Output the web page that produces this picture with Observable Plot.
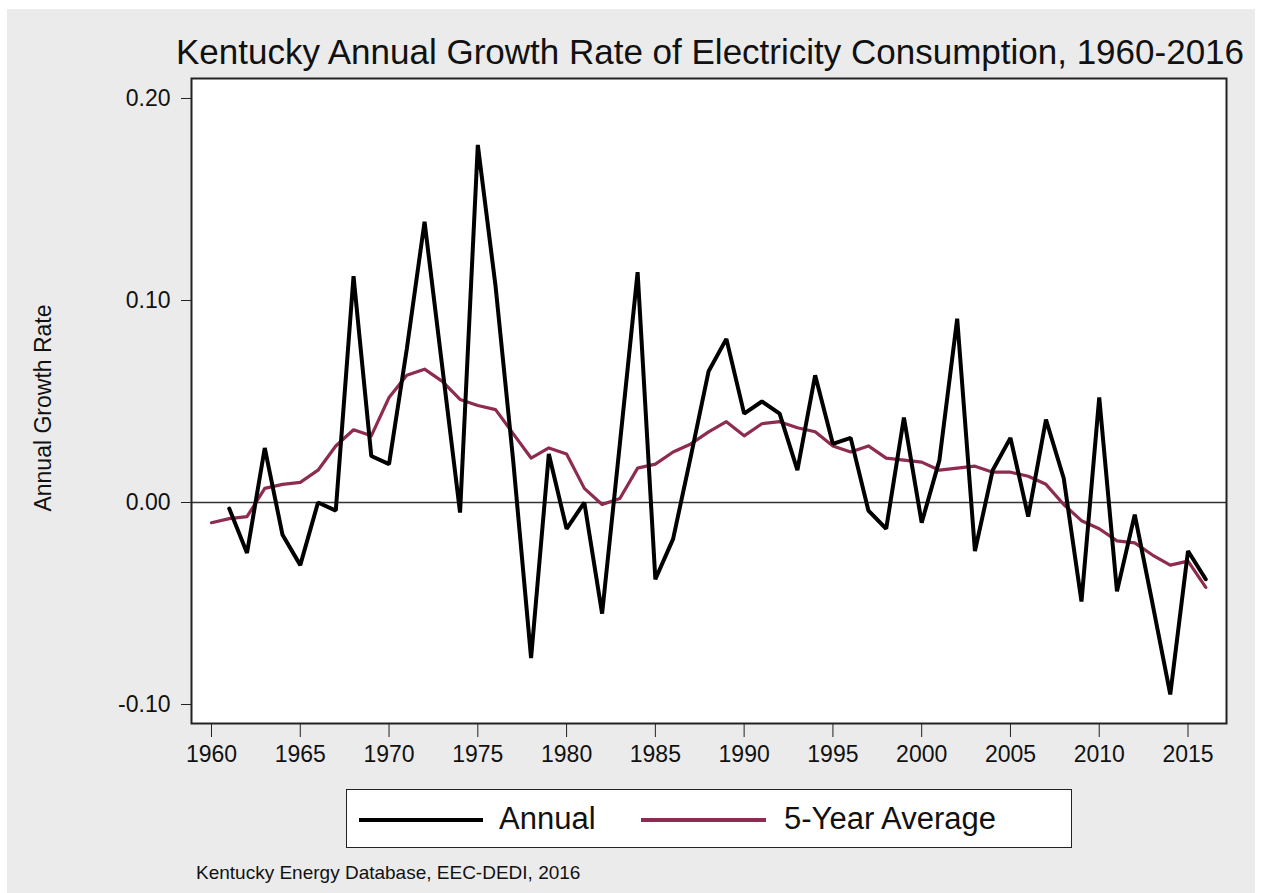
<!DOCTYPE html>
<html>
<head>
<meta charset="utf-8">
<script src="https://cdn.jsdelivr.net/npm/d3@7"></script>
<script src="https://cdn.jsdelivr.net/npm/@observablehq/plot@0.6"></script>
<style>
  html, body { margin: 0; padding: 0; background: #ffffff; }
  #page { position: relative; width: 1262px; height: 893px; overflow: hidden;
          font-family: "Liberation Sans", Arial, Helvetica, sans-serif; color: #111; }
  #bg { position: absolute; left: 7px; top: 9px; width: 1248px; height: 884px; background: #ebebeb; }
  #title { position: absolute; left: 160px; width: 1100px; top: 35px; font-size: 35px; line-height: 34px;
           text-align: center; white-space: nowrap; }
  #ylabel { position: absolute; left: 43px; top: 408px; font-size: 23px; line-height: 23px; white-space: nowrap;
            transform: translate(-50%, -50%) rotate(-90deg); }
  #chart { position: absolute; left: 0; top: 0; }
  #legend { position: absolute; left: 346px; top: 789px; width: 724px; height: 57px; background: #fff;
            border: 1.5px solid #222; }
  .sw { position: absolute; top: 28px; height: 3.5px; }
  .lt { position: absolute; top: 12px; font-size: 31px; line-height: 34px; white-space: nowrap; }
  #caption { position: absolute; left: 196px; top: 863px; font-size: 19px; line-height: 20px; white-space: nowrap; }
</style>
</head>
<body>
<div id="page">
  <div id="bg"></div>
  <div id="chart"></div>
  <div id="title"></div>
  <div id="ylabel">Annual Growth Rate</div>
  <div id="legend">
    <div class="sw" id="sw1" style="left:12px;width:124px;"></div>
    <div class="lt" id="lt1" style="left:152px;"></div>
    <div class="sw" id="sw2" style="left:294px;width:125px;"></div>
    <div class="lt" id="lt2" style="left:437px;"></div>
  </div>
  <div id="caption">Kentucky Energy Database, EEC-DEDI, 2016</div>
</div>
<script>
// ---- data ----
const years = d3.range(1960, 2017);
const annual = [
  null, -0.003, -0.025, 0.027, -0.016, -0.031, 0.000, -0.004, 0.112, 0.023,
  0.019, 0.076, 0.139, 0.067, -0.005, 0.177, 0.107, 0.020, -0.077, 0.024,
  -0.013, 0.000, -0.055, 0.029, 0.114, -0.038, -0.018, 0.023, 0.065, 0.081,
  0.044, 0.050, 0.044, 0.016, 0.063, 0.029, 0.032, -0.004, -0.013, 0.042,
  -0.010, 0.021, 0.091, -0.024, 0.016, 0.032, -0.007, 0.041, 0.012, -0.049,
  0.052, -0.044, -0.006, -0.050, -0.095, -0.024, -0.038
];
const fiveYear = [
  -0.010, -0.008, -0.007, 0.007, 0.009, 0.010, 0.016, 0.028, 0.036, 0.033,
  0.052, 0.063, 0.066, 0.060, 0.051, 0.048, 0.046, 0.034, 0.022, 0.027,
  0.024, 0.007, -0.001, 0.002, 0.017, 0.019, 0.025, 0.029, 0.035, 0.040,
  0.033, 0.039, 0.040, 0.037, 0.035, 0.028, 0.025, 0.028, 0.022, 0.021,
  0.020, 0.016, 0.017, 0.018, 0.015, 0.015, 0.013, 0.009, -0.001, -0.009,
  -0.013, -0.019, -0.020, -0.026, -0.031, -0.029, -0.042
];
const seriesNames = ["Annual", "5-Year Average"];
const seriesColors = ["#000000", "#8e2b50"];
const yTicks = [-0.10, 0.00, 0.10, 0.20];
const xTicks = d3.range(1960, 2016, 5);
const titleText = "Kentucky Annual Growth Rate of Electricity Consumption, 1960-2016";

// ---- table ----
const rowsA = years.map((y, i) => ({year: y, value: annual[i]})).filter(d => d.value !== null);
const rowsF = years.map((y, i) => ({year: y, value: fiveYear[i]}));

const chart = Plot.plot({
  width: 1262,
  height: 780,
  marginTop: 78,
  marginBottom: 57,
  marginLeft: 191,
  marginRight: 36,
  style: {background: "transparent", fontFamily: "'Liberation Sans', Arial, sans-serif", fontSize: "23px", color: "#111"},
  x: {domain: [1958.874, 2017.168], axis: null},
  y: {domain: [-0.1094, 0.2099], axis: null},
  marks: [
    Plot.frame({fill: "#ffffff", stroke: "none"}),
    Plot.ruleY([0], {stroke: "#333", strokeWidth: 1.3}),
    Plot.line(rowsF, {x: "year", y: "value", stroke: seriesColors[1], strokeWidth: 3.2, strokeLinejoin: "round"}),
    Plot.line(rowsA, {x: "year", y: "value", stroke: seriesColors[0], strokeWidth: 4, strokeLinejoin: "miter"}),
    Plot.frame({stroke: "#222", strokeWidth: 2, fill: "none"}),
    Plot.axisY(yTicks, {tickSize: 10, tickPadding: 11, tickFormat: d => d.toFixed(2), fontSize: 23, label: null, stroke: "#222"}),
    Plot.axisX(xTicks, {tickSize: 14, tickPadding: 8, tickFormat: d => String(d), fontSize: 23, label: null, stroke: "#222"})
  ]
});
document.getElementById("chart").appendChild(chart);

document.getElementById("title").textContent = titleText;
document.getElementById("sw1").style.background = seriesColors[0];
document.getElementById("sw2").style.background = seriesColors[1];
document.getElementById("lt1").textContent = seriesNames[0];
document.getElementById("lt2").textContent = seriesNames[1];
</script>
</body>
</html>
